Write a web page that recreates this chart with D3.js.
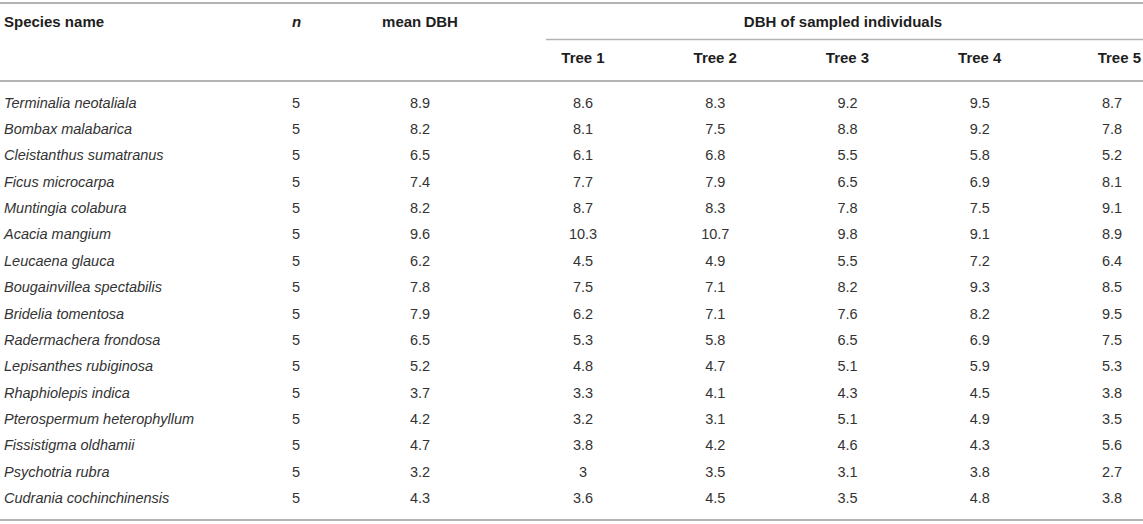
<!DOCTYPE html>
<html lang="en">
  <head>
    <meta charset="UTF-8" />
    <title>DBH of sampled individuals</title>
    <style>
      body {
        margin: 0;
        background: #fff;
        font-family: "Liberation Sans", Arial, Helvetica, sans-serif;
      }
      svg text {
        fill: #333;
        font-size: 14.5px;
      }
      svg .head {
        font-weight: bold;
        font-size: 15px;
        fill: #1e1e1e;
      }
      svg .rule {
        stroke: #b3b3b3;
      }
    </style>
  </head>
  <body>
    <script src="https://cdn.jsdelivr.net/npm/d3@7"></script>
    <script>
      // table data
      var species = [
        "Terminalia neotaliala",
        "Bombax malabarica",
        "Cleistanthus sumatranus",
        "Ficus microcarpa",
        "Muntingia colabura",
        "Acacia mangium",
        "Leucaena glauca",
        "Bougainvillea spectabilis",
        "Bridelia tomentosa",
        "Radermachera frondosa",
        "Lepisanthes rubiginosa",
        "Rhaphiolepis indica",
        "Pterospermum heterophyllum",
        "Fissistigma oldhamii",
        "Psychotria rubra",
        "Cudrania cochinchinensis"
      ];
      var n = [5, 5, 5, 5, 5, 5, 5, 5, 5, 5, 5, 5, 5, 5, 5, 5];
      var meanDBH = [8.9, 8.2, 6.5, 7.4, 8.2, 9.6, 6.2, 7.8, 7.9, 6.5, 5.2, 3.7, 4.2, 4.7, 3.2, 4.3];
      var tree1 = [8.6, 8.1, 6.1, 7.7, 8.7, 10.3, 4.5, 7.5, 6.2, 5.3, 4.8, 3.3, 3.2, 3.8, 3, 3.6];
      var tree2 = [8.3, 7.5, 6.8, 7.9, 8.3, 10.7, 4.9, 7.1, 7.1, 5.8, 4.7, 4.1, 3.1, 4.2, 3.5, 4.5];
      var tree3 = [9.2, 8.8, 5.5, 6.5, 7.8, 9.8, 5.5, 8.2, 7.6, 6.5, 5.1, 4.3, 5.1, 4.6, 3.1, 3.5];
      var tree4 = [9.5, 9.2, 5.8, 6.9, 7.5, 9.1, 7.2, 9.3, 8.2, 6.9, 5.9, 4.5, 4.9, 4.3, 3.8, 4.8];
      var tree5 = [8.7, 7.8, 5.2, 8.1, 9.1, 8.9, 6.4, 8.5, 9.5, 7.5, 5.3, 3.8, 3.5, 5.6, 2.7, 3.8];
      var treeLabels = ["Tree 1", "Tree 2", "Tree 3", "Tree 4", "Tree 5"];

      var width = 1143, height = 524;
      var svg = d3.select("body").append("svg")
        .attr("width", width)
        .attr("height", height);

      // rows
      var y = d3.scalePoint().domain(species).range([102.5, 498]);

      // columns
      var colX = { species: 4, n: 292, mean: 420 };
      var treeX = d3.scalePoint().domain(treeLabels).range([583, 1112]);
      var treeCols = [tree1, tree2, tree3, tree4, tree5];

      // rules
      function rule(x1, x2, yy, w) {
        svg.append("line").attr("class", "rule")
          .attr("x1", x1).attr("x2", x2)
          .attr("y1", yy).attr("y2", yy)
          .attr("stroke-width", w);
      }
      rule(0, width, 3, 2);
      rule(546, width, 39.5, 1.3);
      rule(0, width, 81, 2);
      rule(0, width, 520, 2);

      // header
      var hy = 22, hy2 = 58;
      svg.append("text").attr("class", "head")
        .attr("x", colX.species).attr("y", hy).attr("dy", "0.35em")
        .text("Species name");
      svg.append("text").attr("class", "head")
        .attr("x", colX.n).attr("y", hy).attr("dy", "0.35em")
        .style("font-style", "italic")
        .text("n");
      svg.append("text").attr("class", "head")
        .attr("x", colX.mean).attr("y", hy).attr("dy", "0.35em")
        .attr("text-anchor", "middle")
        .text("mean DBH");
      svg.append("text").attr("class", "head")
        .attr("x", 843).attr("y", hy).attr("dy", "0.35em")
        .attr("text-anchor", "middle")
        .text("DBH of sampled individuals");

      svg.selectAll("text.tree").data(treeLabels).enter().append("text")
        .attr("class", "head tree")
        .attr("x", function(d, i) { return i === 4 ? 1141 : treeX(d); })
        .attr("y", hy2).attr("dy", "0.35em")
        .attr("text-anchor", function(d, i) { return i === 4 ? "end" : "middle"; })
        .text(function(d) { return d; });

      // body
      var rows = svg.selectAll("g.row").data(species).enter().append("g")
        .attr("class", "row")
        .attr("transform", function(d) { return "translate(0," + y(d) + ")"; });

      rows.append("text")
        .attr("x", colX.species).attr("dy", "0.35em")
        .style("font-style", "italic")
        .text(function(d) { return d; });
      rows.append("text")
        .attr("x", colX.n).attr("dy", "0.35em")
        .text(function(d, i) { return n[i]; });
      rows.append("text")
        .attr("x", colX.mean).attr("dy", "0.35em")
        .attr("text-anchor", "middle")
        .text(function(d, i) { return meanDBH[i]; });

      treeCols.forEach(function(vals, j) {
        rows.append("text")
          .attr("x", treeX(treeLabels[j]))
          .attr("dy", "0.35em")
          .attr("text-anchor", "middle")
          .text(function(d, i) { return vals[i]; });
      });
    </script>
  </body>
</html>
